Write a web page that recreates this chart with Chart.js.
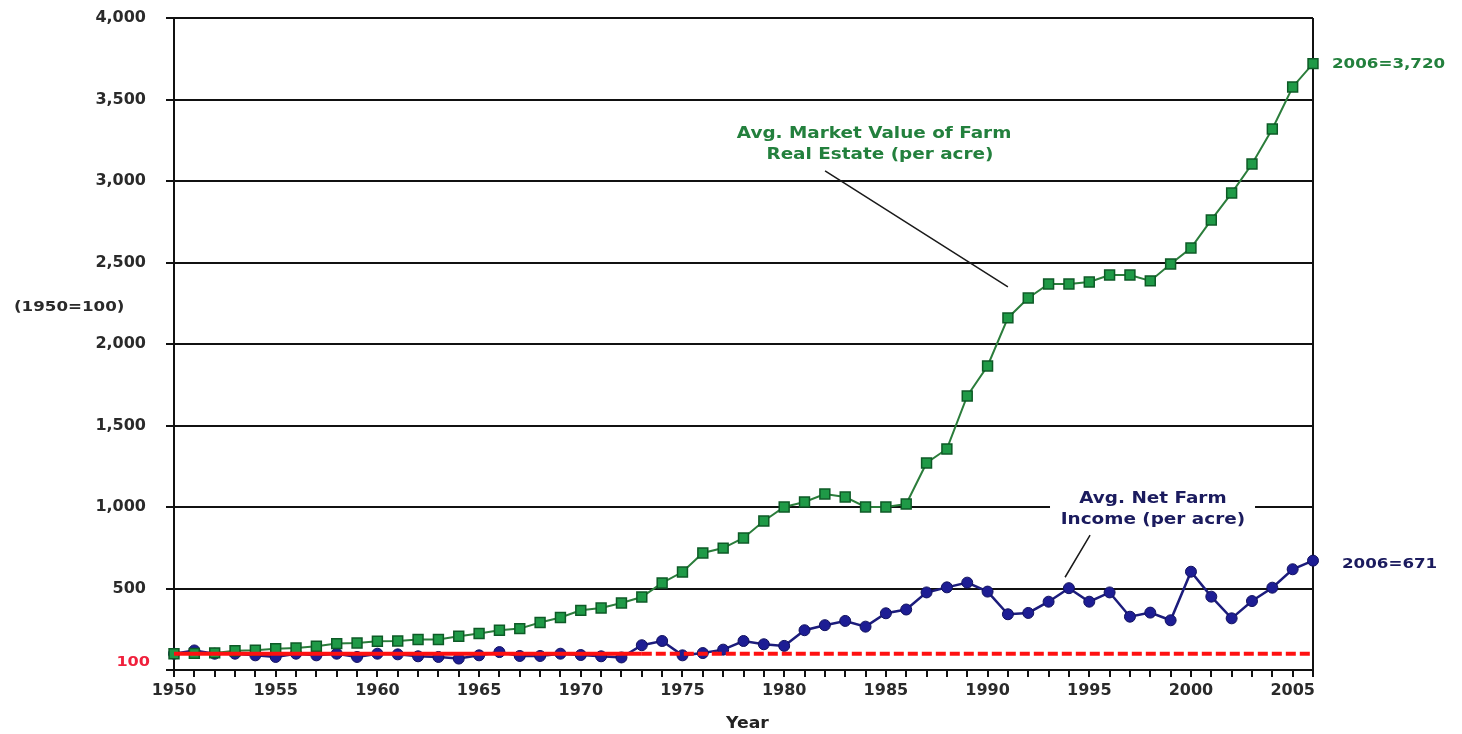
<!DOCTYPE html>
<html>
<head>
<meta charset="utf-8">
<title>Farm Real Estate Value vs. Net Farm Income</title>
<script src="https://cdn.jsdelivr.net/npm/chart.js@4.4.1/dist/chart.umd.min.js"></script>
<style>
  html, body { margin: 0; padding: 0; background: #ffffff; }
  #wrap { width: 1462px; height: 734px; }
</style>
</head>
<body>
<div id="wrap"><canvas id="chart" width="1462" height="734"></canvas></div>
<script>
// Index values, 1950 = 100
const years = [
  1950, 1951, 1952, 1953, 1954, 1955, 1956, 1957, 1958, 1959,
  1960, 1961, 1962, 1963, 1964, 1965, 1966, 1967, 1968, 1969,
  1970, 1971, 1972, 1973, 1974, 1975, 1976, 1977, 1978, 1979,
  1980, 1981, 1982, 1983, 1984, 1985, 1986, 1987, 1988, 1989,
  1990, 1991, 1992, 1993, 1994, 1995, 1996, 1997, 1998, 1999,
  2000, 2001, 2002, 2003, 2004, 2005, 2006
];

// Avg. market value of farm real estate (per acre)
const marketValue = [
  100, 102, 105, 118, 121, 131, 135, 146, 162, 166,
  176, 178, 187, 187, 207, 224, 244, 254, 291, 322,
  366, 380, 411, 448, 534, 601, 718, 748, 810, 914,
  1000, 1031, 1080, 1061, 1000, 1000, 1018, 1270, 1356, 1681,
  1865, 2160, 2282, 2368, 2368, 2380, 2423, 2423, 2387, 2491,
  2589, 2761, 2926, 3104, 3319, 3577, 3720
];

// Avg. net farm income (per acre)
const netIncome = [
  100, 120, 100, 100, 90, 80, 100, 90, 100, 80,
  100, 96, 84, 80, 70, 90, 110, 86, 86, 100,
  92, 84, 77, 152, 178, 90, 104, 125, 178, 158,
  148, 244, 275, 301, 266, 348, 371, 476, 507, 536,
  481, 342, 350, 419, 502, 419, 476, 327, 352, 305,
  603, 450, 317, 423, 505, 618, 671
];

// Base-year reference line (solid through 1973, dashed afterwards)
const baselineYears = [1950, 1973, 2006];
const baselineValues = [100, 100, 100];

const yTicks = [0, 500, 1000, 1500, 2000, 2500, 3000, 3500, 4000];

const GREEN_TEXT = '#23803d';
const NAVY_TEXT = '#1b1b5e';
const TEXT_STRETCH = 1.15;
const FONT_FAMILY = '"DejaVu Sans", Verdana, sans-serif';

function toPoints(xs, ys) {
  return xs.map((x, i) => ({ x: x, y: ys[i] }));
}

function stretchedText(ctx, text, x, y, align, font, color) {
  ctx.save();
  ctx.font = font;
  ctx.fillStyle = color;
  ctx.textAlign = align;
  ctx.textBaseline = 'middle';
  ctx.translate(x, y);
  ctx.scale(TEXT_STRETCH, 1);
  ctx.fillText(text, 0, 0);
  ctx.restore();
}

// Labels, leader lines and end-value callouts
const annotationPlugin = {
  id: 'farmAnnotations',
  afterDatasetsDraw(chart) {
    const ctx = chart.ctx;
    const xs = chart.scales.x;
    const ys = chart.scales.y;
    const px = v => xs.getPixelForValue(v);
    const py = v => ys.getPixelForValue(v);
    const bold16 = 'bold 16px ' + FONT_FAMILY;
    const bold14 = 'bold 14.5px ' + FONT_FAMILY;

    // Net income label sits on a white box that interrupts the 1,000 gridline
    ctx.save();
    ctx.fillStyle = '#ffffff';
    const bx0 = px(1993.07), bx1 = px(2003.15);
    const by0 = py(1116), by1 = py(858);
    ctx.fillRect(bx0, by0, bx1 - bx0, by1 - by0);
    ctx.restore();

    // Leader lines
    ctx.save();
    ctx.strokeStyle = '#1a1a1a';
    ctx.lineWidth = 1.5;
    ctx.beginPath();
    ctx.moveTo(px(1982.01), py(3062));
    ctx.lineTo(px(1991.0), py(2350));
    ctx.moveTo(px(1995.04), py(827));
    ctx.lineTo(px(1993.81), py(569));
    ctx.stroke();
    ctx.restore();

    stretchedText(ctx, 'Avg. Market Value of Farm', px(1984.42), py(3289), 'center', bold16, GREEN_TEXT);
    stretchedText(ctx, 'Real Estate (per acre)', px(1984.71), py(3160), 'center', bold16, GREEN_TEXT);
    stretchedText(ctx, 'Avg. Net Farm', px(1998.13), py(1048), 'center', bold16, NAVY_TEXT);
    stretchedText(ctx, 'Income (per acre)', px(1998.13), py(919), 'center', bold16, NAVY_TEXT);

    // End-of-series callouts
    const last = years.length - 1;
    const fmt = v => v.toLocaleString('en-US');
    stretchedText(ctx, years[last] + '=' + fmt(marketValue[last]),
      px(years[last]) + 19, py(marketValue[last]) + 1, 'left', bold14, GREEN_TEXT);
    stretchedText(ctx, years[last] + '=' + fmt(netIncome[last]),
      px(years[last]) + 29, py(netIncome[last]) + 4, 'left', bold14, NAVY_TEXT);
  },
  afterDraw(chart) {
    const ctx = chart.ctx;
    const xs = chart.scales.x;
    const ys = chart.scales.y;

    // Base-year value on the vertical axis
    stretchedText(ctx, String(baselineValues[0]), ys.right - 24, ys.getPixelForValue(baselineValues[0]) + 9,
      'right', 'bold 14px ' + FONT_FAMILY, '#f0203c');

    // Unit note to the left of the value axis
    stretchedText(ctx, '(1950=100)', 14, 307, 'left', 'bold 14.5px ' + FONT_FAMILY, '#2a2a2a');

    // Horizontal axis title
    stretchedText(ctx, 'Year', (xs.left + xs.right) / 2 + 4, 724, 'center', 'bold 15px ' + FONT_FAMILY, '#222222');
  }
};

const ctx = document.getElementById('chart').getContext('2d');
new Chart(ctx, {
  type: 'line',
  data: {
    datasets: [
      {
        label: 'Base year (1950=100)',
        data: toPoints(baselineYears, baselineValues),
        borderColor: '#ff1010',
        borderWidth: 4,
        borderDash: [],
        segment: {
          borderDash: c => (c.p0.parsed.x >= 1973 ? [10, 4] : undefined)
        },
        pointRadius: 0,
        order: 1,
        clip: false
      },
      {
        label: 'Avg. Market Value of Farm Real Estate (per acre)',
        data: toPoints(years, marketValue),
        borderColor: '#2b7d3b',
        borderWidth: 2,
        pointStyle: 'rect',
        pointRadius: 7,
        pointBackgroundColor: '#1f9a47',
        pointBorderColor: '#0d5a26',
        pointBorderWidth: 1.5,
        tension: 0,
        order: 2,
        clip: false
      },
      {
        label: 'Avg. Net Farm Income (per acre)',
        data: toPoints(years, netIncome),
        borderColor: '#1c1c7c',
        borderWidth: 2.5,
        pointStyle: 'circle',
        pointRadius: 5.5,
        pointBackgroundColor: '#1d1d94',
        pointBorderColor: '#10105e',
        pointBorderWidth: 1,
        tension: 0,
        order: 3,
        clip: false
      }
    ]
  },
  options: {
    responsive: false,
    animation: false,
    events: [],
    layout: { padding: { left: 0, top: 18, right: 149, bottom: 0 } },
    plugins: {
      legend: { display: false },
      tooltip: { enabled: false }
    },
    scales: {
      x: {
        type: 'linear',
        min: years[0],
        max: years[years.length - 1],
        afterFit: s => { s.height = 64; s.paddingLeft = 0; s.paddingRight = 0; },
        afterBuildTicks: s => { s.ticks = years.map(v => ({ value: v })); },
        ticks: {
          autoSkip: false,
          maxRotation: 0,
          minRotation: 0,
          padding: 4,
          color: '#2a2a2a',
          font: { family: FONT_FAMILY, size: 16, weight: 'bold' },
          callback: v => ((v - years[0]) % 5 === 0 ? String(v) : '')
        },
        grid: {
          drawOnChartArea: true,
          color: c => (c.tick && c.tick.value === years[years.length - 1] ? '#111111' : 'rgba(0,0,0,0)'),
          lineWidth: 2,
          drawTicks: true,
          tickLength: 7,
          tickColor: '#111111',
          tickWidth: 2
        },
        border: { display: true, color: '#111111', width: 2 }
      },
      y: {
        type: 'linear',
        min: yTicks[0],
        max: yTicks[yTicks.length - 1],
        afterFit: s => { s.width = 174; s.paddingTop = 0; s.paddingBottom = 0; },
        afterBuildTicks: s => { s.ticks = yTicks.map(v => ({ value: v })); },
        ticks: {
          padding: 20,
          color: '#2a2a2a',
          font: { family: FONT_FAMILY, size: 16, weight: 'bold' },
          callback: v => (v === 0 ? '' : v.toLocaleString('en-US'))
        },
        grid: {
          color: '#111111',
          lineWidth: 2,
          drawTicks: true,
          tickLength: 8,
          tickColor: '#111111',
          tickWidth: 2
        },
        border: { display: true, color: '#111111', width: 2 }
      }
    }
  },
  plugins: [annotationPlugin]
});
</script>
</body>
</html>
